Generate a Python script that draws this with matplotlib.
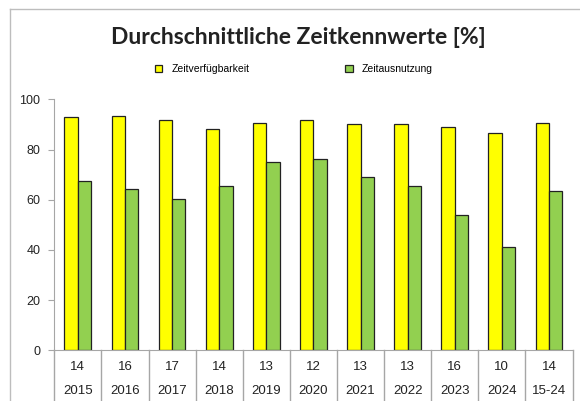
import matplotlib
matplotlib.use("Agg")
import matplotlib.pyplot as plt
from matplotlib.lines import Line2D
import matplotlib.transforms as mtransforms
import numpy as np

# data
years = ["2015", "2016", "2017", "2018", "2019", "2020", "2021", "2022", "2023", "2024", "15-24"]
counts = ["14", "16", "17", "14", "13", "12", "13", "13", "16", "10", "14"]
verfuegbarkeit = [92.8, 93.5, 91.8, 88.3, 90.4, 91.6, 90.0, 90.3, 89.0, 86.7, 90.4]
ausnutzung = [67.6, 64.4, 60.2, 65.5, 75.2, 76.4, 69.2, 65.3, 53.9, 41.0, 63.6]

W, H = 580, 401
fig = plt.figure(figsize=(W / 100, H / 100), dpi=100)
fig.patch.set_facecolor("white")

# outer chart frame (only left and top edges are inside the picture)
fx, fy = 9.5 / W, 1 - 8.5 / H
fig.lines.append(Line2D([fx, fx], [0, fy], transform=fig.transFigure, color="#bdbdbd", linewidth=1.0))
fig.lines.append(Line2D([fx, 1], [fy, fy], transform=fig.transFigure, color="#bdbdbd", linewidth=1.0))

ax = fig.add_axes([54.3 / W, 1 - 350.3 / H, (572.5 - 54.3) / W, (350.3 - 99.3) / H])

x = np.arange(len(years))
bw = 0.285
b1 = ax.bar(x - bw / 2, verfuegbarkeit, bw, color="#ffff00", edgecolor="#222222",
            linewidth=0.9, label="Zeitverfügbarkeit")
b2 = ax.bar(x + bw / 2, ausnutzung, bw, color="#92d050", edgecolor="#222222",
            linewidth=0.9, label="Zeitausnutzung")

ax.set_xlim(-0.5, len(years) - 0.5)
ax.set_ylim(0, 100)
ax.set_yticks([0, 20, 40, 60, 80, 100])
ax.set_xticks([])
for s in ["top", "right"]:
    ax.spines[s].set_visible(False)
ax.spines["left"].set_color("#a6a6a6")
ax.spines["bottom"].set_color("#a6a6a6")
ax.tick_params(axis="y", direction="out", length=4, color="#a6a6a6", labelsize=9,
               labelcolor="#222222", pad=6)
for lab in ax.get_yticklabels():
    lab.set_fontfamily("Liberation Sans")

# data table below the axis
trans = mtransforms.blended_transform_factory(ax.transData, fig.transFigure)
for b in np.arange(len(years) + 1) - 0.5:
    ax.plot([b, b], [1 - 350.3 / H, 0], transform=trans, color="#a6a6a6",
            linewidth=1.0, clip_on=False)
for i in range(len(years)):
    ax.text(x[i], 1 - 367 / H, counts[i], transform=trans, ha="center", va="center",
            fontsize=9.5, family="Liberation Sans", color="#222222")
    ax.text(x[i], 1 - 391.5 / H, years[i], transform=trans, ha="center", va="center",
            fontsize=9.5, family="Liberation Sans", color="#222222")

fig.text(298 / W, 1 - 37 / H, "Durchschnittliche Zeitkennwerte [%]", ha="center", va="center",
         fontsize=16.5, fontweight="bold", family="Lato", color="#222222")

fig.legend(handles=[b1, b2], loc="center", bbox_to_anchor=(294 / W, 1 - 69 / H), ncol=2,
           frameon=False, prop={"family": "Liberation Sans", "size": 7.5},
           handlelength=0.7, handleheight=0.7, handletextpad=0.9, columnspacing=9.2)

fig.savefig("out.png", dpi=100)
